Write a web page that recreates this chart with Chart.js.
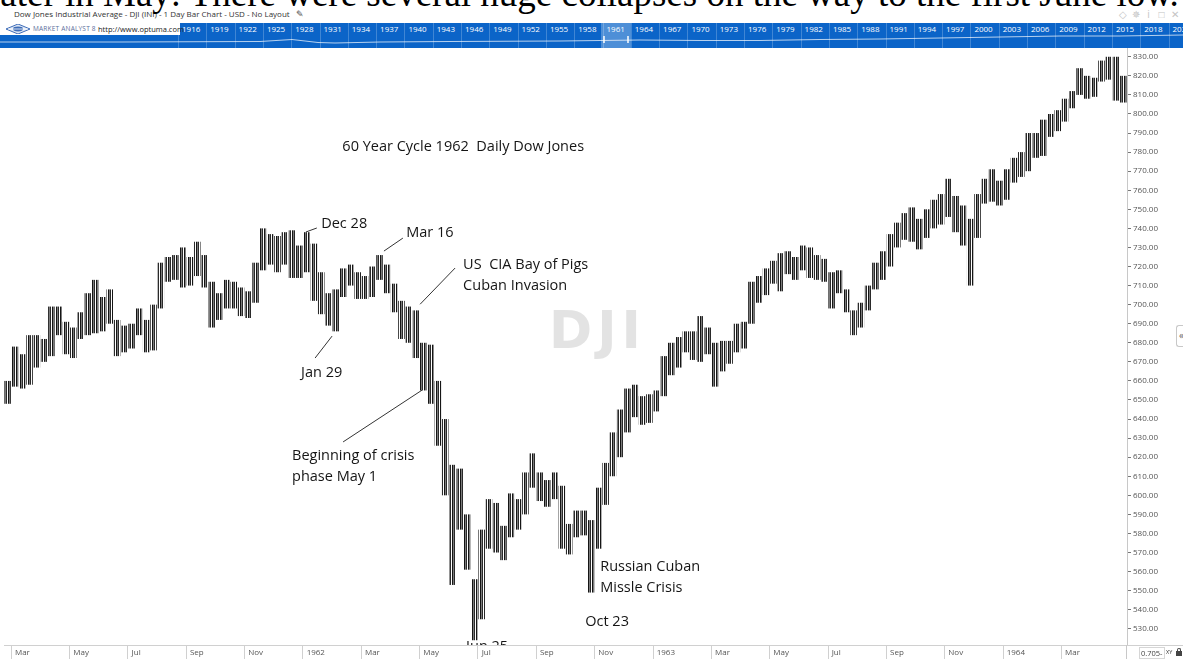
<!DOCTYPE html>
<html lang="en">
<head>
<meta charset="utf-8">
<title>DJI 1961-1964 daily bars - 60 year cycle</title>
<script src="https://cdn.jsdelivr.net/npm/chart.js@4.4.1/dist/chart.umd.min.js"></script>
<style>
    html, body { margin: 0; padding: 0; background: #fff; }
    body { position: relative; width: 1183px; height: 659px; overflow: hidden; font-family: 'Open Sans', sans-serif; }
    #bigText { position: absolute; left: -10px; top: -26px; font-family: 'Liberation Serif', serif; font-size: 37px; line-height: 40px; white-space: nowrap; color: #000; z-index: 3; }
    #toolbar { position: absolute; left: 14px; top: 9px; font-size: 8px; line-height: 10px; color: #333; white-space: nowrap; z-index: 2; }
    #toolbar .pen { margin-left: 6px; font-size: 9px; color: #444; }
    #winIcons { position: absolute; left: 1116px; top: 8px; font-size: 10px; line-height: 12px; color: #c4c4c4; white-space: nowrap; }
    #winIcons span { display: inline-block; width: 13px; text-align: center; }
    #nav { position: absolute; left: 0; top: 23px; width: 1183px; height: 25px; background: #0b64c8; overflow: hidden; }
    #nav .sep { position: absolute; top: 0; width: 1px; height: 25px; background: rgba(255,255,255,0.22); }
    #nav .yr { position: absolute; top: 1px; font-size: 8px; line-height: 10px; color: #fff; }
    #nav svg.line { position: absolute; left: 0; top: 0; }
    #nav .pick { position: absolute; left: 601px; top: 0; width: 30px; height: 25px; background: rgba(255,255,255,0.28); }
    #nav .grip { position: absolute; top: 13px; width: 2px; height: 7px; background: rgba(255,255,255,0.75); }
    #logo { position: absolute; left: 0; top: 0; width: 180px; height: 12px; background: #fff; }
    #logo svg { position: absolute; left: 6px; top: 1px; }
    #logo .ma { position: absolute; left: 33px; top: 1.5px; font-size: 6.5px; line-height: 8px; color: #5d6f9c; letter-spacing: 0.2px; }
    #logo .url { position: absolute; left: 98px; top: 1px; font-size: 7.5px; line-height: 10px; color: #222; }
    #chartBox { position: absolute; left: 0; top: 48px; width: 1183px; height: 611px; }
    #sideTab { position: absolute; left: 1176px; top: 325px; width: 9px; height: 20px; border: 1px solid #c8c8c8; border-right: none; border-radius: 3px 0 0 3px; background: #fff; color: #666; font-size: 10px; line-height: 19px; text-align: center; }
    #bandTop { position: absolute; left: 1127px; top: 645px; width: 56px; height: 1px; background: #d0d0d0; }
    #bandSep { position: absolute; left: 1126px; top: 645px; width: 1px; height: 14px; background: #c8c8c8; }
    #scaleBox { position: absolute; left: 1139px; top: 647px; width: 24px; height: 10px; border: 1px solid #d6d6d6; font-size: 7.5px; line-height: 10px; color: #444; text-indent: 1px; overflow: hidden; }
    #xyTag { position: absolute; left: 1166px; top: 648px; font-size: 5.5px; line-height: 9px; color: #333; }
    #lock { position: absolute; left: 1176px; top: 651px; width: 6px; height: 5px; background: #444; }
    #lock:before { content: ''; position: absolute; left: 1px; top: -3px; width: 2px; height: 3px; border: 1px solid #444; border-bottom: none; border-radius: 2px 2px 0 0; }
</style>
</head>
<body>

<div id="toolbar">Dow Jones Industrial Average - DJI (INI) - 1 Day Bar Chart - USD - No Layout<span class="pen">&#x270E;</span></div>
<div id="bigText">later in May: There were several huge collapses on the way to the first June low.</div>
<div id="winIcons"><span>&#x25C7;</span><span>&#x2735;</span><span>i</span><span>&#x25A1;</span><span>&#x2715;</span></div>

<div id="nav">
    <svg class="line" width="1183" height="25">
        <polyline fill="none" stroke="rgba(255,255,255,0.7)" stroke-width="1"
            points="0,19 120,19 260,18.5 292,16.5 318,19.5 335,20 380,19 450,18.5 560,18 640,17 700,17.5 760,17.5 820,16.5 880,16 940,15 1000,14 1060,13 1120,13 1183,12"/>
    </svg>
    <div class="pick"></div>
    <div class="grip" style="left:603px"></div>
    <div class="grip" style="left:627px"></div>
    <div id="logo">
        <svg width="24" height="10" viewBox="0 0 24 10">
            <polygon points="0,5 12,0 24,5 12,10" fill="#dfe8f5" stroke="#3d6cb8" stroke-width="1"/>
            <ellipse cx="12" cy="5" rx="5" ry="2.4" fill="#3d6cb8"/>
            <line x1="2" y1="5" x2="22" y2="5" stroke="#fff" stroke-width="0.8"/>
        </svg>
        <span class="ma">MARKET ANALYST 8</span>
        <span class="url">http://www.optuma.com</span>
    </div>
</div>

<div id="chartBox"><canvas id="dji" width="1183" height="611"></canvas></div>

<div id="sideTab">&#xAB;</div>
<div id="bandTop"></div>
<div id="bandSep"></div>
<div id="scaleBox">0.705-</div>
<div id="xyTag">XY</div>
<div id="lock"></div>

<script>
// --- DATA ---
// one slot per quarter month: last week of Feb 1961, Mar 1961 - Apr 1964, first week of May 1964
const weekSlots = ['1961-02 w4'];
for (let m = 0; m < 38; m++) {
    const d = new Date(1961, 2 + m, 1);
    const tag = d.getFullYear() + '-' + String(d.getMonth() + 1).padStart(2, '0');
    for (let w = 1; w <= 4; w++) weekSlots.push(tag + ' w' + w);
}
weekSlots.push('1964-05 w1');

const weekHigh = [
    660, 678, 674, 684, 684, 682, 699, 699, 691, 688, 696, 706, 713, 704, 708, 692, 689, 690, 698, 692,
    700, 722, 725, 726, 730, 725, 733, 726, 712, 706, 713, 712, 709, 707, 722, 740, 737, 736, 738, 739,
    731, 738, 732, 717, 706, 708, 719, 721, 717, 715, 720, 726, 721, 711, 702, 699, 697, 680, 679, 660,
    640, 616, 614, 590, 556, 582, 598, 596, 584, 601, 598, 612, 622, 612, 608, 612, 605, 585, 592, 592,
    587, 604, 617, 633, 645, 656, 658, 652, 653, 655, 673, 680, 683, 686, 686, 694, 688, 680, 681, 681,
    690, 691, 712, 715, 719, 723, 727, 728, 725, 731, 730, 726, 724, 717, 718, 708, 697, 701, 710, 722,
    728, 737, 743, 748, 751, 745, 750, 755, 758, 766, 757, 752, 745, 758, 766, 771, 765, 771, 777, 780,
    790, 790, 797, 800, 802, 808, 812, 824, 820, 819, 828, 830, 830, 820
];
const weekLow = [
    648, 657, 656, 658, 667, 670, 673, 684, 674, 672, 682, 684, 685, 686, 690, 673, 675, 677, 684, 675,
    676, 698, 712, 713, 709, 710, 715, 709, 688, 692, 698, 698, 694, 693, 701, 718, 721, 717, 721, 714,
    714, 717, 702, 695, 689, 686, 704, 710, 703, 703, 704, 713, 706, 696, 682, 680, 672, 655, 648, 626,
    600, 553, 582, 561, 524, 535, 572, 570, 566, 578, 582, 590, 604, 597, 594, 598, 572, 569, 578, 579,
    549, 572, 595, 610, 620, 633, 641, 637, 638, 644, 652, 663, 667, 675, 671, 670, 674, 657, 665, 669,
    675, 677, 690, 701, 705, 711, 707, 716, 713, 718, 714, 713, 712, 698, 706, 696, 684, 688, 697, 708,
    713, 720, 730, 734, 733, 729, 735, 740, 742, 746, 738, 731, 710, 735, 753, 754, 752, 755, 764, 767,
    770, 777, 778, 788, 791, 796, 803, 810, 808, 809, 817, 818, 807, 806
];

// every second month, starting Mar 1961
const monthTickLabels = ['Mar', 'May', 'Jul', 'Sep', 'Nov', '1962', 'Mar', 'May', 'Jul', 'Sep', 'Nov',
    '1963', 'Mar', 'May', 'Jul', 'Sep', 'Nov', '1964', 'Mar'];
const priceTicks = [530, 540, 550, 560, 570, 580, 590, 600, 610, 620, 630, 640, 650, 660, 670, 680, 690,
    700, 710, 720, 730, 740, 750, 760, 770, 780, 790, 800, 810, 820, 830];

// text notes, placed at [slot, price]
const notes = [
    { lines: ['60 Year Cycle 1962  Daily Dow Jones'], at: [45.9, 782.6] },
    { lines: ['Dec 28'], at: [43.0, 742.3], lead: [[40.9, 738.1], [42.4, 740.2]] },
    { lines: ['Mar 16'], at: [54.65, 737.6], lead: [[51.6, 728.1], [54.2, 734.9]] },
    { lines: ['US  CIA Bay of Pigs', 'Cuban Invasion'], at: [62.46, 720.8], lead: [[56.56, 700.2], [61.36, 719.2]] },
    { lines: ['Jan 29'], at: [40.24, 664.1], lead: [[42.16, 672.0], [44.49, 683.5]] },
    { lines: ['Beginning of crisis', 'phase May 1'], at: [39.0, 620.6], lead: [[46.0, 628.0], [56.84, 655.2]] },
    { lines: ['Russian Cuban', 'Missle Crisis'], at: [81.26, 562.4] },
    { lines: ['Oct 23'], at: [79.2, 533.6] },
    { lines: ['Jun 25'], at: [62.87, 520.5] }
];
const watermark = { text: 'DJI', at: [80.6, 684.6] };

// --- top navigator strip (years) ---
const nav = document.getElementById('nav');
for (let k = 0, yr = 1916; yr <= 2021; k++, yr += 3) {
    const x = 178 + k * 28.3;
    const sep = document.createElement('div');
    sep.className = 'sep';
    sep.style.left = x + 'px';
    nav.appendChild(sep);
    const lab = document.createElement('div');
    lab.className = 'yr';
    lab.style.left = (x + 4) + 'px';
    lab.textContent = yr;
    nav.appendChild(lab);
}
nav.appendChild(document.getElementById('logo'));

// --- CHART ---
Chart.defaults.font.family = "'Open Sans', sans-serif";

// daily-bar look: dark / grey / dark / white columns
function stripeFill() {
    const c = document.createElement('canvas');
    c.width = 4; c.height = 1;
    const g = c.getContext('2d');
    ['#151515', '#7c7c7c', '#2a2a2a', '#ffffff'].forEach((col, i) => {
        g.fillStyle = col;
        g.fillRect(i, 0, 1, 1);
    });
    return g.createPattern(c, 'repeat');
}

function monthLabel(i) {
    if (i < 1 || (i - 1) % 8 !== 0) return '';
    return monthTickLabels[(i - 1) / 8] || '';
}

const notesPlugin = {
    id: 'notes',
    beforeDatasetsDraw(chart) {
        const { ctx, scales: { x, y } } = chart;
        ctx.save();
        ctx.font = 'bold 52px "DejaVu Sans"';
        ctx.fillStyle = '#e3e3e3';
        ctx.textAlign = 'center';
        ctx.textBaseline = 'middle';
        ctx.letterSpacing = '5px';
        ctx.fillText(watermark.text, x.getPixelForValue(watermark.at[0]) + 2, y.getPixelForValue(watermark.at[1]));
        ctx.restore();
    },
    afterDatasetsDraw(chart) {
        const { ctx, chartArea, scales: { x, y } } = chart;
        ctx.save();
        ctx.beginPath();
        ctx.rect(chartArea.left, chartArea.top, chartArea.right - chartArea.left, chartArea.bottom - chartArea.top);
        ctx.clip();
        ctx.font = '14.5px "Open Sans"';
        ctx.fillStyle = '#151515';
        ctx.strokeStyle = '#333';
        ctx.lineWidth = 1;
        ctx.textAlign = 'left';
        ctx.textBaseline = 'middle';
        notes.forEach(n => {
            const px = x.getPixelForValue(n.at[0]);
            const py = y.getPixelForValue(n.at[1]);
            n.lines.forEach((t, k) => ctx.fillText(t, px, py + k * 21));
            if (n.lead) {
                ctx.beginPath();
                ctx.moveTo(x.getPixelForValue(n.lead[0][0]), y.getPixelForValue(n.lead[0][1]));
                ctx.lineTo(x.getPixelForValue(n.lead[1][0]), y.getPixelForValue(n.lead[1][1]));
                ctx.stroke();
            }
        });
        ctx.restore();
    }
};

const ctx = document.getElementById('dji').getContext('2d');

const djiChart = new Chart(ctx, {
    type: 'bar',
    data: {
        labels: weekSlots,
        datasets: [{
            label: 'DJI',
            data: weekLow.map((lo, i) => [lo, weekHigh[i]]),
            backgroundColor: stripeFill(),
            borderWidth: 0,
            barPercentage: 0.9,
            categoryPercentage: 1
        }]
    },
    options: {
        responsive: false,
        animation: false,
        events: [],
        layout: { padding: { left: 4, right: 0, top: 0, bottom: 0 } },
        plugins: {
            legend: { display: false },
            tooltip: { enabled: false }
        },
        scales: {
            x: {
                type: 'category',
                offset: true,
                afterFit: s => { s.height = 14; s.paddingLeft = 0; s.paddingRight = 0; },
                border: { color: '#d0d0d0' },
                grid: {
                    offset: true,
                    drawOnChartArea: false,
                    drawTicks: true,
                    tickLength: 14,
                    color: c => monthLabel(c.index) ? '#d0d0d0' : 'rgba(0,0,0,0)'
                },
                ticks: {
                    autoSkip: false,
                    maxRotation: 0,
                    minRotation: 0,
                    align: 'start',
                    padding: -11,
                    color: '#555',
                    font: { size: 8 },
                    callback: (v, i) => monthLabel(i)
                }
            },
            y: {
                position: 'right',
                min: 521.5,
                max: 834.6,
                afterBuildTicks: s => { s.ticks = priceTicks.map(v => ({ value: v })); },
                afterFit: s => { s.width = 56; s.paddingTop = 0; s.paddingBottom = 0; },
                border: { color: '#c8c8c8' },
                grid: { drawOnChartArea: false, drawTicks: true, tickLength: 4, tickColor: '#777' },
                ticks: {
                    padding: 2,
                    color: '#555',
                    font: { size: 8 },
                    callback: v => Number(v).toFixed(2)
                }
            }
        }
    },
    plugins: [notesPlugin]
});
</script>
</body>
</html>
